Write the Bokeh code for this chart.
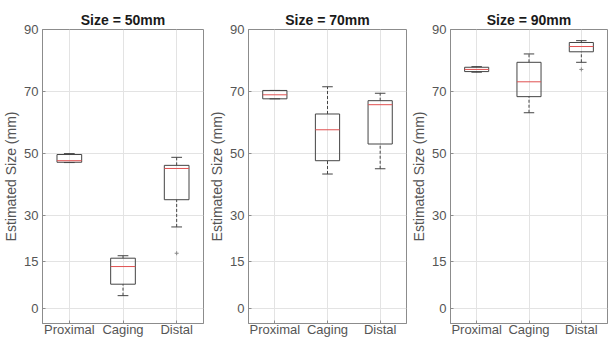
from bokeh.plotting import figure
from bokeh.layouts import row
from bokeh.models import FixedTicker, ColumnDataSource
from bokeh.embed import file_html
from bokeh.resources import INLINE

categories = ["Proximal", "Caging", "Distal"]
titles = ["Size = 50mm", "Size = 70mm", "Size = 90mm"]
y_ticks = [0, 15, 30, 50, 70, 90]

# 50 mm
lo_50 = [47.0, 4.0, 26.2]
q1_50 = [47.1, 7.7, 35.0]
med_50 = [47.6, 13.4, 45.1]
q3_50 = [49.6, 16.1, 46.1]
hi_50 = [49.9, 16.9, 48.7]
out_cat_50 = [3]
out_val_50 = [17.7]

# 70 mm
lo_70 = [67.6, 43.3, 45.0]
q1_70 = [67.6, 47.6, 53.0]
med_70 = [68.9, 57.6, 65.7]
q3_70 = [70.3, 62.7, 67.0]
hi_70 = [70.3, 71.5, 69.4]
out_cat_70 = []
out_val_70 = []

# 90 mm
lo_90 = [76.2, 63.1, 79.4]
q1_90 = [76.4, 68.3, 82.8]
med_90 = [77.1, 73.1, 84.5]
q3_90 = [77.8, 79.4, 85.8]
hi_90 = [78.0, 82.1, 86.4]
out_cat_90 = [3]
out_val_90 = [77.1]

panels = [
    (lo_50, q1_50, med_50, q3_50, hi_50, out_cat_50, out_val_50),
    (lo_70, q1_70, med_70, q3_70, hi_70, out_cat_70, out_val_70),
    (lo_90, q1_90, med_90, q3_90, hi_90, out_cat_90, out_val_90),
]

FONT = "Liberation Sans"
BOX_W = 0.46
CAP_W = 0.2
widths = [206, 202, 200]
right_borders = [3, 2, 1]

figs = []
for i, (lo, q1, med, q3, hi, oc, ov) in enumerate(panels):
    p = figure(width=widths[i], height=339, x_range=(0.5, 3.5), y_range=(-5, 90),
               output_backend="svg", toolbar_location=None,
               min_border_left=41, min_border_right=right_borders[i],
               min_border_top=29, min_border_bottom=16)
    p.title.text = titles[i]
    p.title.align = "center"
    p.title.text_font = FONT
    p.title.text_font_size = "14px"
    p.title.text_font_style = "bold"
    p.title.text_color = "#1a1a1a"
    p.title.standoff = 4
    p.title.offset = 0

    x = [1, 2, 3]
    src = ColumnDataSource(dict(
        x=x, lo=lo, q1=q1, med=med, q3=q3, hi=hi,
        bl=[v - BOX_W / 2 for v in x], br=[v + BOX_W / 2 for v in x],
        cl=[v - CAP_W / 2 for v in x], cr=[v + CAP_W / 2 for v in x],
    ))
    # whiskers (dashed)
    p.segment(x0="x", y0="q3", x1="x", y1="hi", source=src, line_color="#444444",
              line_width=1, line_dash="3 2")
    p.segment(x0="x", y0="lo", x1="x", y1="q1", source=src, line_color="#444444",
              line_width=1, line_dash="3 2")
    # caps
    p.segment(x0="cl", y0="hi", x1="cr", y1="hi", source=src, line_color="#444444", line_width=1)
    p.segment(x0="cl", y0="lo", x1="cr", y1="lo", source=src, line_color="#444444", line_width=1)
    # boxes
    p.quad(left="bl", right="br", bottom="q1", top="q3", source=src, fill_color=None,
           line_color="#444444", line_width=1)
    # medians
    p.segment(x0="bl", y0="med", x1="br", y1="med", source=src, line_color="#e05050", line_width=1)
    # outliers
    if oc:
        p.scatter(x=oc, y=ov, marker="cross", size=4, line_color="#888888", line_width=1)

    # axes
    p.xaxis.ticker = FixedTicker(ticks=[1, 2, 3])
    p.xaxis.major_label_overrides = {1: categories[0], 2: categories[1], 3: categories[2]}
    p.yaxis.ticker = FixedTicker(ticks=y_ticks)
    p.yaxis.axis_label = "Estimated Size (mm)"
    for ax in (p.xaxis[0], p.yaxis[0]):
        ax.axis_line_color = "#8c8c8c"
        ax.major_tick_line_color = "#8c8c8c"
        ax.major_tick_in = 3
        ax.major_tick_out = 0
        ax.minor_tick_line_color = None
        ax.major_label_text_font = FONT
        ax.major_label_text_font_size = "13px"
        ax.major_label_text_color = "#555555"
    p.xaxis.major_label_standoff = -2
    p.yaxis.major_label_standoff = 4
    p.yaxis.axis_label_text_font = FONT
    p.yaxis.axis_label_text_font_size = "14px"
    p.yaxis.axis_label_text_font_style = "normal"
    p.yaxis.axis_label_text_color = "#555555"
    p.yaxis.axis_label_standoff = 2

    p.xgrid.ticker = FixedTicker(ticks=[1, 2, 3])
    p.ygrid.ticker = FixedTicker(ticks=y_ticks)
    p.grid.grid_line_color = "#e3e3e3"
    p.grid.grid_line_width = 1
    p.outline_line_color = "#8c8c8c"
    p.outline_line_width = 1
    p.background_fill_color = "white"
    p.border_fill_color = "white"
    figs.append(p)

layout = row(*figs, spacing=0)
open("out.html", "w").write(file_html(layout, INLINE))
